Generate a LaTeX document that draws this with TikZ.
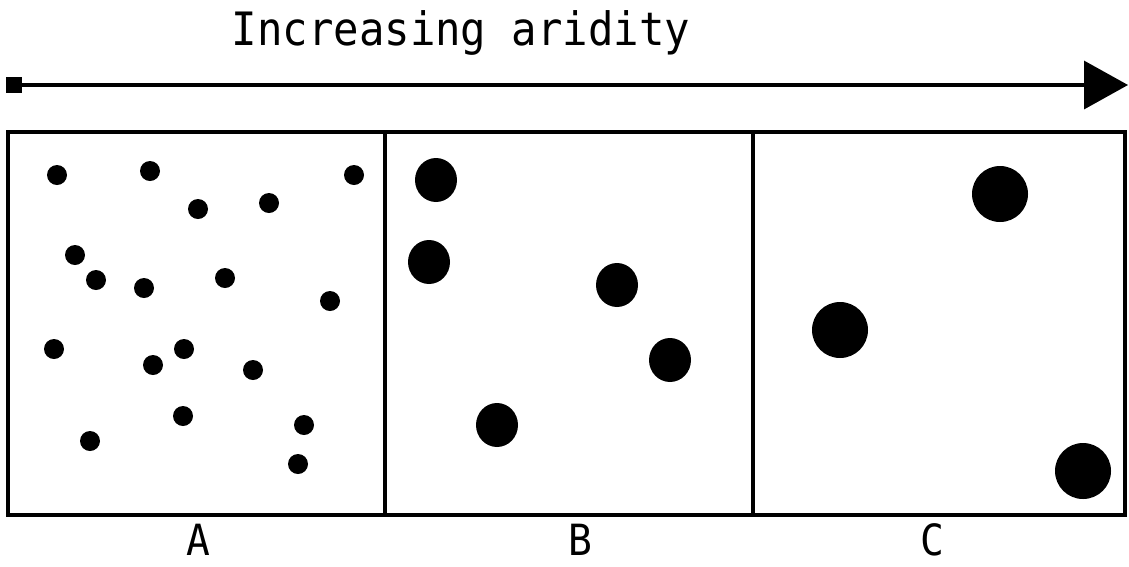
\documentclass[tikz,border=0pt]{standalone}
\usepackage{fontspec}
\newfontfamily\plotfont{DejaVu Sans Mono}
\usetikzlibrary{arrows.meta}
\begin{document}
\begin{tikzpicture}[x=1pt,y=-1pt,
  frame/.style={line width=3.5pt},
  lbl/.style={font=\plotfont\fontsize{43}{43}\selectfont, inner sep=0pt, anchor=base, xscale=0.92},
  axis/.style={line width=3.5pt, -{Triangle[length=44pt,width=48pt]}}]
\useasboundingbox (0,0) rectangle (1129,566);
% title
\node[lbl, font=\plotfont\fontsize{46}{46}\selectfont, xscale=1] (title) at (461,45) {Increasing aridity};
% arrow
\coordinate (start) at (14,85);
\coordinate (tip) at (1128,85);
\fill (6,77) rectangle (22,93);
\draw[axis] (start) -- (tip);
% panels
\draw[frame] (8,132) rectangle (1125,515);
\draw[frame] (385,132) -- (385,515);
\draw[frame] (753,132) -- (753,515);
% panel A dots
\foreach \x/\y in {57/175,150/171,354/175,198/209,269/203,75/255,96/280,144/288,225/278,330/301,54/349,184/349,153/365,253/370,183/416,304/425,90/441,298/464}
  \fill (\x,\y) circle (10);
% panel B dots
\foreach \x/\y in {436/180,429/262,617/285,670/360,497/425}
  \fill (\x,\y) ellipse [x radius=21, y radius=22];
% panel C dots
\foreach \x/\y in {1000/194,840/330,1083/471}
  \fill (\x,\y) circle (28);
% labels
\node[lbl] (la) at (198,555) {A};
\node[lbl] (lb) at (580,555) {B};
\node[lbl] (lc) at (932,555) {C};
\end{tikzpicture}
\end{document}
